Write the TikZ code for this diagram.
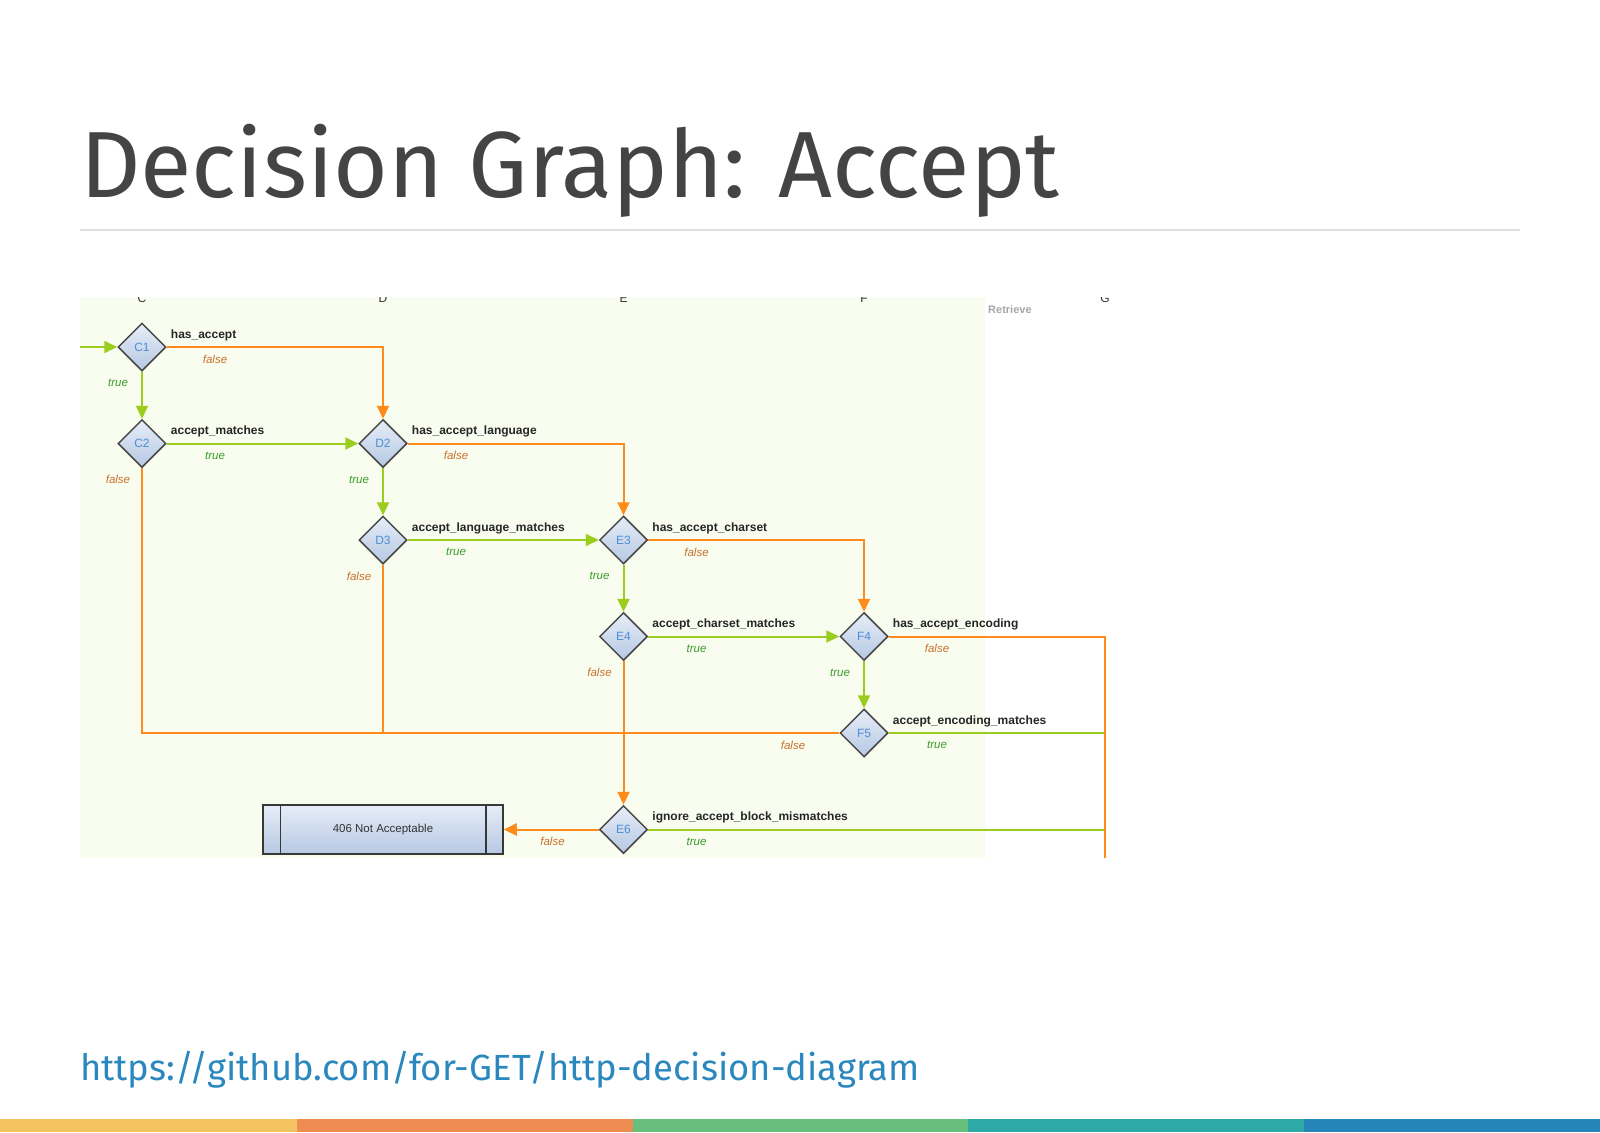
\documentclass[tikz,border=0pt]{standalone}
\usepackage{fontspec}
\setmainfont{Liberation Sans}
\setsansfont{Liberation Sans}
\newfontfamily\slidefont{Fira Sans}
\usepackage{xcolor}
\usepackage{tikz}
\usetikzlibrary{arrows.meta}
\usetikzlibrary{shapes.geometric}
\usetikzlibrary{positioning}
\definecolor{laranja}{HTML}{FF8C1A}
\definecolor{verde}{HTML}{9ACD1E}
\definecolor{txtverde}{HTML}{3A9A2A}
\definecolor{txtlaranja}{HTML}{C8702E}
\definecolor{azulno}{HTML}{4A8FD4}
\definecolor{fundo}{HTML}{F9FDEF}
\definecolor{titulo}{HTML}{444444}
\definecolor{regua}{HTML}{E0E0E0}
\definecolor{link}{HTML}{2A88BF}
\definecolor{losangotopo}{HTML}{E6EDF8}
\definecolor{losangobase}{HTML}{B6C8E2}
\definecolor{barraA}{HTML}{F5C35F}
\definecolor{barraB}{HTML}{EF8C52}
\definecolor{barraC}{HTML}{68BE7D}
\definecolor{barraD}{HTML}{2EAAA6}
\definecolor{barraE}{HTML}{2585B8}
\tikzset{
  losango/.style={diamond, draw=black!72, line width=1.5pt, top color=losangotopo, bottom color=losangobase, minimum width=48pt, minimum height=48pt, inner sep=0pt, font=\fontsize{12}{12}\selectfont, text=azulno},
  resposta/.style={draw=black!78, line width=1.5pt, top color=losangotopo, bottom color=losangobase, minimum width=240pt, minimum height=49pt, inner sep=0pt, font=\fontsize{11.5}{12}\selectfont, text=black!80},
  pergunta/.style={anchor=base west, inner sep=0pt, font=\bfseries\fontsize{12}{12}\selectfont, text=black!85},
  sim/.style={inner sep=0pt, font=\itshape\fontsize{11.5}{12}\selectfont, text=txtverde},
  nao/.style={inner sep=0pt, font=\itshape\fontsize{11.5}{12}\selectfont, text=txtlaranja},
  linhasim/.style={verde, line width=2pt},
  linhanao/.style={laranja, line width=2pt},
  setasim/.style={linhasim, -{Triangle[length=13pt,width=12pt]}},
  setanao/.style={linhanao, -{Triangle[length=13pt,width=12pt]}},
}

\begin{document}
\begin{tikzpicture}[x=1pt, y=-1pt, font=\sffamily]
  \useasboundingbox (0,0) rectangle (1600,1132);
  % slide title
  \node[anchor=base west, inner sep=0pt, font=\slidefont\fontsize{94}{104}\selectfont, text=titulo] (tit) at (80,197) {Decision Graph: Accept};
  \draw[regua, line width=2pt] (80,230) -- (1520,230);
  % diagram
  \fill[fundo] (80,297) rectangle (985,858);
  \begin{scope}
    \clip (0,297) rectangle (1600,400);
    \foreach \c/\x in {C/142,D/383,E/623.5,F/864,G/1105}
      \node[anchor=base, inner sep=0pt, font=\fontsize{12}{12}\selectfont, text=black!80] (col\c) at (\x,302) {\c};
  \end{scope}
  \node[anchor=west, inner sep=0pt, font=\bfseries\fontsize{11}{11}\selectfont, text=black!35] (ret) at (988,310) {Retrieve};

  \node[losango] (c1) at (142,347) {C1};
  \node[losango] (c2) at (142,443.5) {C2};
  \node[losango] (d2) at (383,443.5) {D2};
  \node[losango] (d3) at (383,540) {D3};
  \node[losango] (e3) at (623.5,540) {E3};
  \node[losango] (e4) at (623.5,636.5) {E4};
  \node[losango] (f4) at (864,636.5) {F4};
  \node[losango] (f5) at (864,733) {F5};
  \node[losango] (e6) at (623.5,829.5) {E6};
  \node[resposta] (n406) at (383,829.5) {406 Not Acceptable};
  \draw[black!78, line width=1.5pt] ([xshift=18pt]n406.north west) -- ([xshift=18pt]n406.south west);
  \draw[black!78, line width=1.5pt] ([xshift=-18pt]n406.north east) -- ([xshift=-18pt]n406.south east);
  \coordinate (entrada) at (80,347);
  \coordinate (colunaG) at (1105,858);

  % connectors
  \draw[setasim] (entrada) -- (c1.west);
  \draw[setanao] (c1.east) -| (d2.north);
  \draw[setasim] (c1.south) -- (c2.north);
  \draw[setasim] (c2.east) -- (d2.west);
  \draw[setanao] (d2.east) -| (e3.north);
  \draw[setasim] (d2.south) -- (d3.north);
  \draw[setasim] (d3.east) -- (e3.west);
  \draw[setanao] (e3.east) -| (f4.north);
  \draw[setasim] (e3.south) -- (e4.north);
  \draw[setasim] (e4.east) -- (f4.west);
  \draw[setasim] (f4.south) -- (f5.north);
  \draw[linhanao] (c2.south) |- (f5.west);
  \draw[linhanao] (d3.south) -- (d3 |- f5);
  \draw[setanao] (e4.south) -- (e6.north);
  \draw[setanao] (e6.west) -- (n406.east);
  \draw[linhasim] (f5.east) -- (f5 -| colunaG);
  \draw[linhasim] (e6.east) -- (e6 -| colunaG);
  \draw[linhanao] (f4.east) -| (colunaG);

  % condition names
  \node[pergunta] (pc1) at ([shift={(4pt,9pt)}]c1.east) {has\_accept};
  \node[pergunta] (pc2) at ([shift={(4pt,9pt)}]c2.east) {accept\_matches};
  \node[pergunta] (pd2) at ([shift={(4pt,9pt)}]d2.east) {has\_accept\_language};
  \node[pergunta] (pd3) at ([shift={(4pt,9pt)}]d3.east) {accept\_language\_matches};
  \node[pergunta] (pe3) at ([shift={(4pt,9pt)}]e3.east) {has\_accept\_charset};
  \node[pergunta] (pe4) at ([shift={(4pt,9pt)}]e4.east) {accept\_charset\_matches};
  \node[pergunta] (pf4) at ([shift={(4pt,9pt)}]f4.east) {has\_accept\_encoding};
  \node[pergunta] (pf5) at ([shift={(4pt,9pt)}]f5.east) {accept\_encoding\_matches};
  \node[pergunta] (pe6) at ([shift={(4pt,9pt)}]e6.east) {ignore\_accept\_block\_mismatches};

  % edge labels
  \node[nao] (lc1) at ([shift={(73pt,-12pt)}]c1) {false};
  \node[sim] (vc1) at ([shift={(-24pt,-36pt)}]c1) {true};
  \node[sim] (lc2) at ([shift={(73pt,-12pt)}]c2) {true};
  \node[nao] (vc2) at ([shift={(-24pt,-36pt)}]c2) {false};
  \node[nao] (ld2) at ([shift={(73pt,-12pt)}]d2) {false};
  \node[sim] (vd2) at ([shift={(-24pt,-36pt)}]d2) {true};
  \node[sim] (ld3) at ([shift={(73pt,-12pt)}]d3) {true};
  \node[nao] (vd3) at ([shift={(-24pt,-36pt)}]d3) {false};
  \node[nao] (le3) at ([shift={(73pt,-12pt)}]e3) {false};
  \node[sim] (ve3) at ([shift={(-24pt,-36pt)}]e3) {true};
  \node[sim] (le4) at ([shift={(73pt,-12pt)}]e4) {true};
  \node[nao] (ve4) at ([shift={(-24pt,-36pt)}]e4) {false};
  \node[nao] (lf4) at ([shift={(73pt,-12pt)}]f4) {false};
  \node[sim] (vf4) at ([shift={(-24pt,-36pt)}]f4) {true};
  \node[sim] (lf5) at ([shift={(73pt,-12pt)}]f5) {true};
  \node[nao] (wf5) at ([shift={(-71pt,-12pt)}]f5) {false};
  \node[sim] (le6) at ([shift={(73pt,-12pt)}]e6) {true};
  \node[nao] (we6) at ([shift={(-71pt,-12pt)}]e6) {false};

  % footer
  \node[anchor=base west, inner sep=0pt, font=\slidefont\fontsize{36.4}{42}\selectfont, text=link] (url) at (80,1080) {https://github.com/for-GET/http-decision-diagram};
  \foreach \a/\b/\cor in {0/297/barraA,297/633/barraB,633/968/barraC,968/1304/barraD,1304/1600/barraE}
    \fill[\cor] (\a,1119) rectangle (\b,1132);
\end{tikzpicture}
\end{document}
